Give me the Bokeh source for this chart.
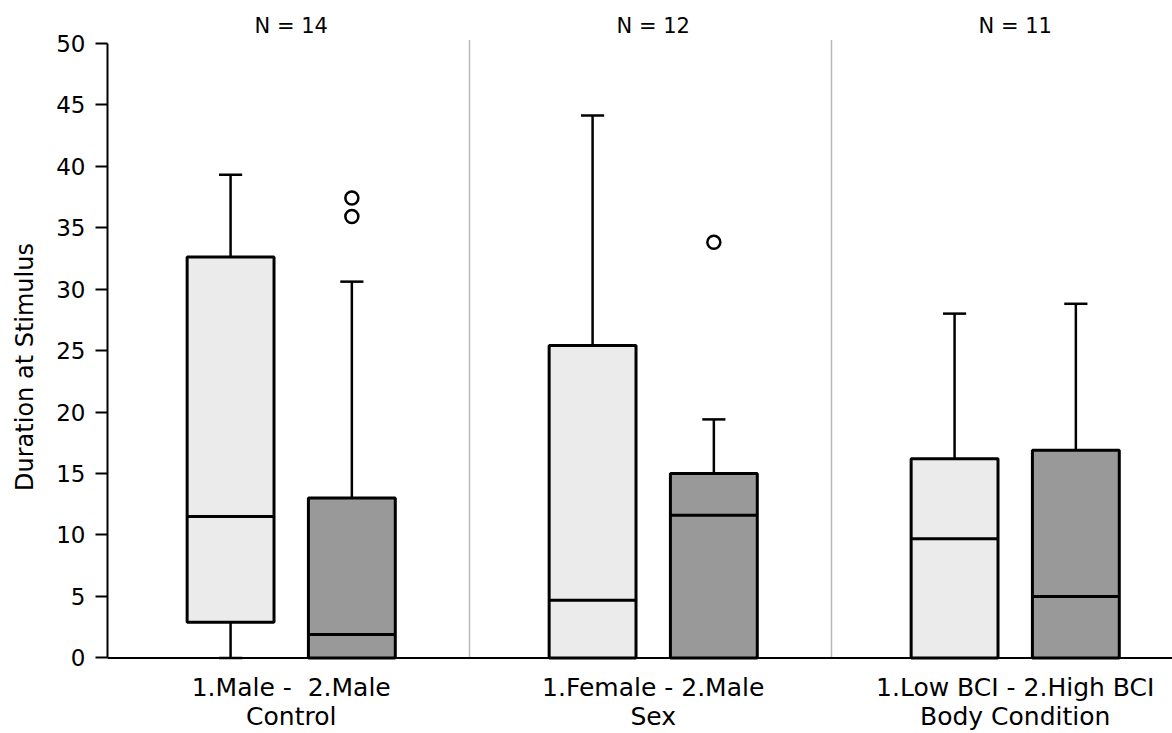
from bokeh.plotting import figure
from bokeh.models import ColumnDataSource, FixedTicker, Range1d
from bokeh.core.properties import value
from bokeh.embed import file_html
from bokeh.resources import INLINE

# ---- data ----
groups = ["Control", "Sex", "Body Condition"]
pair_labels = ["1.Male -\u00a0\u00a02.Male", "1.Female - 2.Male", "1.Low BCI - 2.High BCI"]
n_labels = ["N = 14", "N = 12", "N = 11"]

box_group = [0, 0, 1, 1, 2, 2]
box_level = [0, 1, 0, 1, 0, 1]          # 0 = level "1", 1 = level "2"
q1 = [2.9, 0.0, 0.0, 0.0, 0.0, 0.0]
median = [11.5, 1.9, 4.7, 11.6, 9.7, 5.0]
q3 = [32.6, 13.0, 25.4, 15.0, 16.2, 16.9]
lower = [0.0, 0.0, 0.0, 0.0, 0.0, 0.0]
upper = [39.3, 30.6, 44.1, 19.4, 28.0, 28.8]

outlier_box = [1, 1, 3]
outlier_val = [37.4, 35.9, 33.8]

y_ticks = [0, 5, 10, 15, 20, 25, 30, 35, 40, 45, 50]

# ---- layout ----
offsets = [0.34, 0.675]
box_w = 0.24
cap_w = 0.064
fills = ["#ebebeb", "#999999"]
FONT = "DejaVu Sans"
Y_TOP_LINE = 50.25

xs = [g + offsets[l] for g, l in zip(box_group, box_level)]
centers = [g + (offsets[0] + offsets[1]) / 2 for g in range(len(groups))]

p = figure(width=1172, height=733, output_backend="svg", toolbar_location=None,
           x_range=Range1d(0, 2.942), y_range=Range1d(-6.14, 53.46),
           min_border_left=107, min_border_right=0, min_border_top=0,
           min_border_bottom=0)
p.outline_line_color = None
p.grid.visible = False
p.background_fill_color = "white"
p.border_fill_color = "white"
p.xaxis.visible = False

# panel separators
p.segment(x0=[1, 2], y0=[0, 0], x1=[1, 2], y1=[Y_TOP_LINE, Y_TOP_LINE],
          line_color="#b8b8b8", line_width=1.5)
# x axis line
p.segment(x0=[-0.04], y0=[0], x1=[2.942], y1=[0], line_color="black", line_width=2)

src = ColumnDataSource(dict(
    x=xs, q1=q1, q3=q3, med=median, lo=lower, hi=upper,
    fill=[fills[l] for l in box_level],
    cl=[x - cap_w / 2 for x in xs], cr=[x + cap_w / 2 for x in xs],
    bl=[x - box_w / 2 for x in xs], br=[x + box_w / 2 for x in xs],
))

# whiskers
p.segment(x0="x", y0="q3", x1="x", y1="hi", source=src, line_color="black", line_width=2.5)
p.segment(x0="x", y0="q1", x1="x", y1="lo", source=src, line_color="black", line_width=2.5)
p.segment(x0="cl", y0="hi", x1="cr", y1="hi", source=src, line_color="black", line_width=2.5)
low_idx = [i for i in range(len(xs)) if q1[i] > lower[i]]
p.segment(x0=[xs[i] - cap_w / 2 for i in low_idx], y0=[lower[i] for i in low_idx],
          x1=[xs[i] + cap_w / 2 for i in low_idx], y1=[lower[i] for i in low_idx],
          line_color="black", line_width=2.5)

# boxes
p.quad(left="bl", right="br", bottom="q1", top="q3", source=src,
       fill_color="fill", line_color="black", line_width=3)
# medians
p.segment(x0="bl", y0="med", x1="br", y1="med", source=src, line_color="black", line_width=3)

# outliers
p.scatter(x=[xs[i] for i in outlier_box], y=outlier_val, marker="circle", size=13,
          fill_color="white", line_color="black", line_width=2.5)

# group texts
p.text(x=centers, y=[51.4] * 3, text=n_labels, text_align="center",
       text_baseline="middle", text_font=value(FONT), text_font_size="21px",
       text_color="black")
p.text(x=centers, y=[-2.4] * 3, text=pair_labels, text_align="center",
       text_baseline="middle", text_font=value(FONT), text_font_size="25px",
       text_color="black")
p.text(x=centers, y=[-4.75] * 3, text=groups, text_align="center",
       text_baseline="middle", text_font=value(FONT), text_font_size="25px",
       text_color="black")

# y axis
p.yaxis.bounds = (0, 50)
p.yaxis.ticker = FixedTicker(ticks=y_ticks)
p.yaxis.axis_label = "Duration at Stimulus"
p.yaxis.axis_label_text_font = FONT
p.yaxis.axis_label_text_font_size = "24px"
p.yaxis.axis_label_text_font_style = "normal"
p.yaxis.axis_label_text_color = "black"
p.yaxis.axis_label_standoff = 14
p.yaxis.major_label_text_font = FONT
p.yaxis.major_label_text_font_size = "23px"
p.yaxis.major_label_text_color = "black"
p.yaxis.major_label_standoff = 10
p.yaxis.major_tick_out = 12
p.yaxis.major_tick_in = 0
p.yaxis.minor_tick_line_color = None
p.yaxis.major_tick_line_width = 2
p.yaxis.axis_line_width = 2
p.yaxis.axis_line_color = "black"
p.yaxis.major_tick_line_color = "black"

open("out.html", "w").write(file_html(p, INLINE))
